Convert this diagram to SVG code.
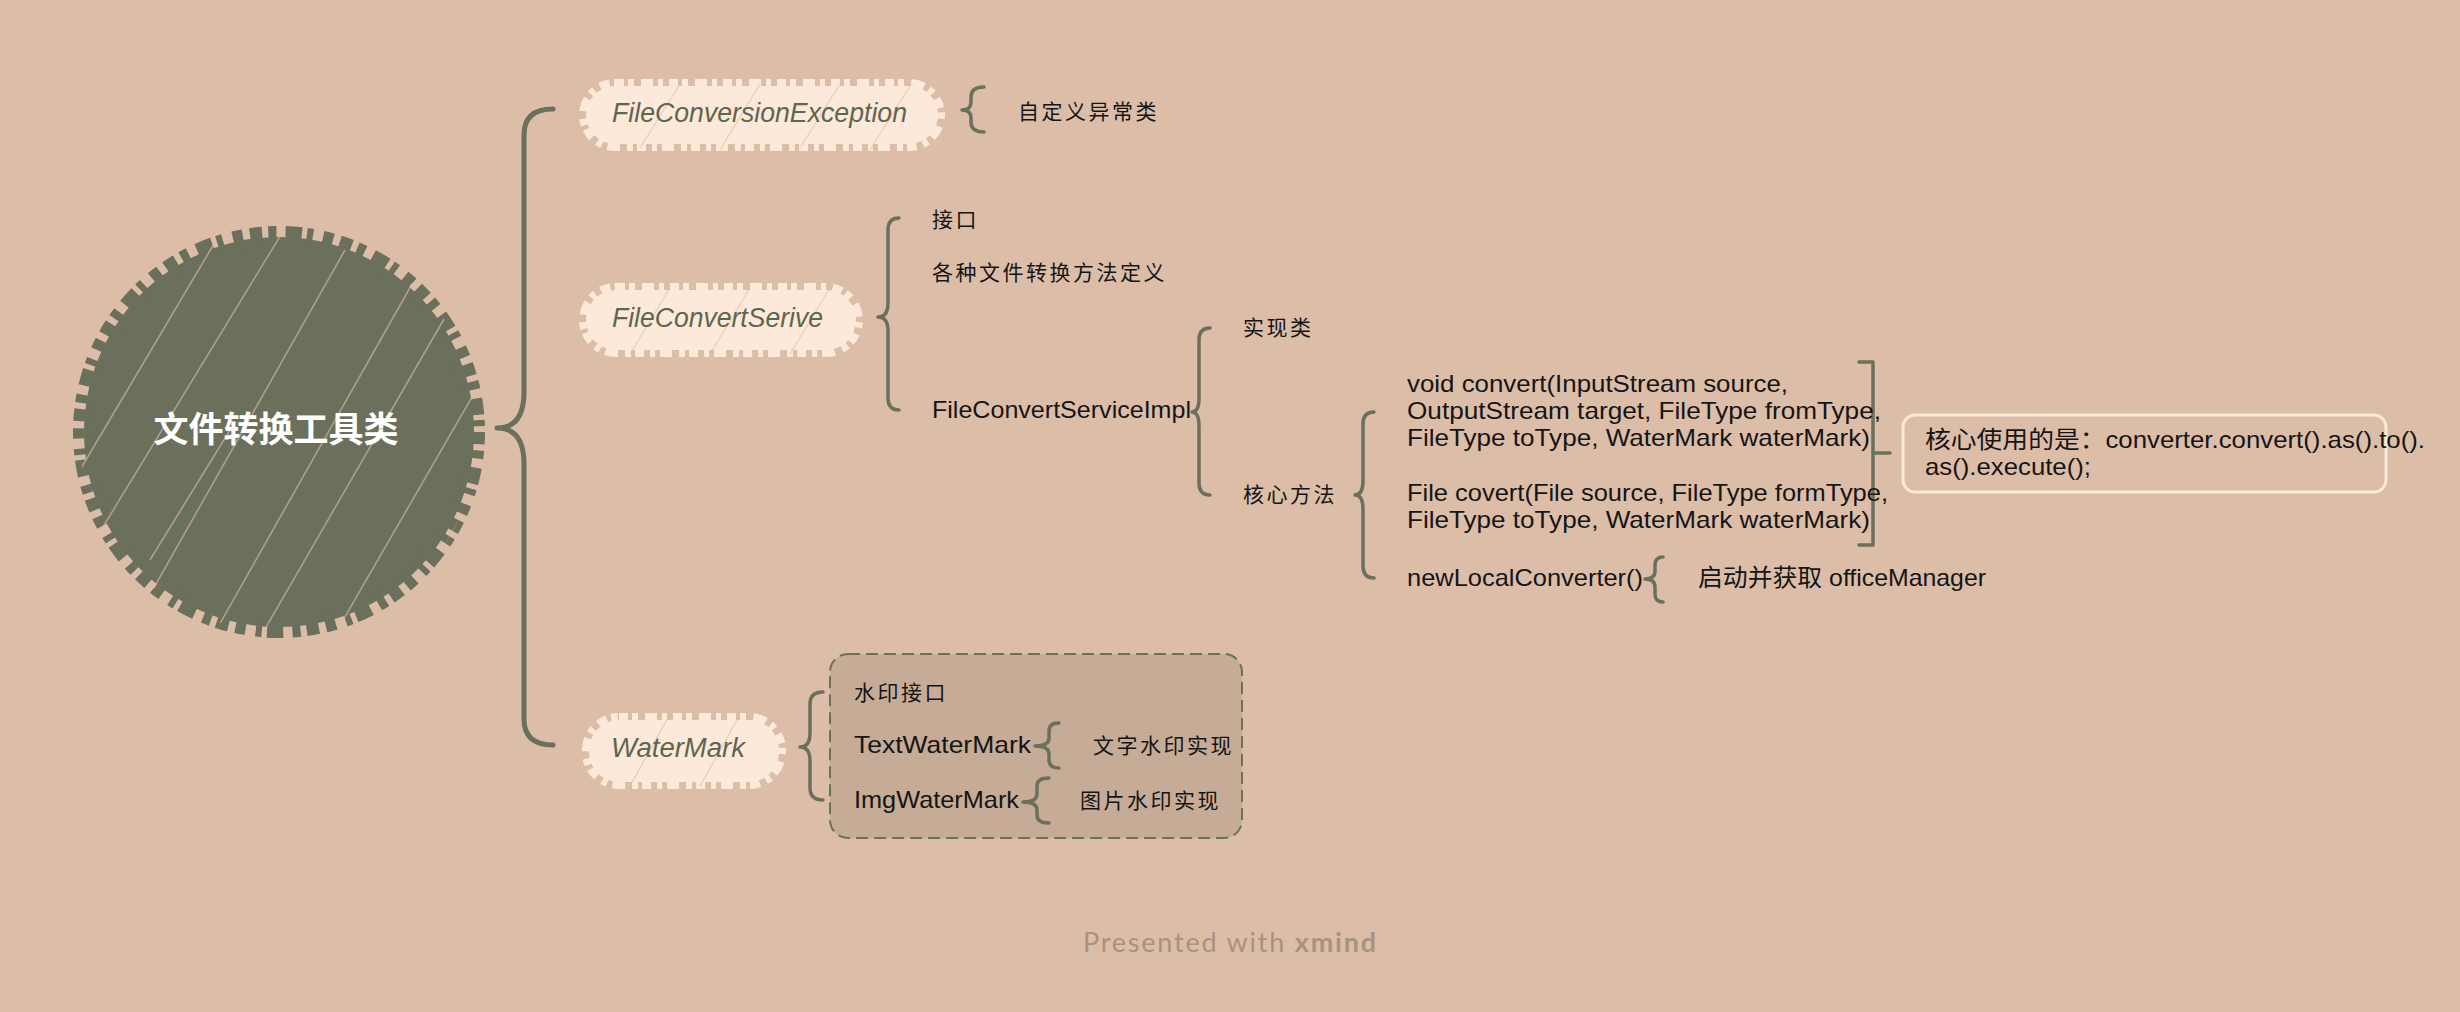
<svg xmlns="http://www.w3.org/2000/svg" width="2460" height="1012" viewBox="0 0 2460 1012">
<style>
.br{fill:none;stroke:#6b705c;stroke-width:3.5;stroke-linecap:round;stroke-linejoin:round}
.brm{stroke-width:5}
.t{font-family:"Liberation Sans","Noto Sans CJK SC",sans-serif;font-size:24px;fill:#151515}
.c{font-family:"Noto Sans CJK SC",sans-serif;font-size:21px;letter-spacing:2.5px;fill:#151515}
.nt{font-family:"Liberation Sans","Noto Sans",sans-serif;font-style:italic;font-size:27px;fill:#5f6650}
.scr{fill:#fde9d9;stroke:#fde9d9;stroke-width:14;stroke-dasharray:9 4 6 7 12 5 5 6}
.nh{stroke:#dcbda8;stroke-width:1.3;opacity:0.6}
.hatch{stroke:#dcbda8;stroke-width:1.6;opacity:0.6}
</style>
<defs>
<clipPath id="cc"><circle cx="279" cy="432" r="200"/></clipPath>
</defs>
<rect width="2460" height="1012" fill="#dcbda8"/>

<g id="boundary-watermark">
<rect x="830" y="654" width="412" height="184" rx="18" fill="#c6ab96" stroke="#6b705c" stroke-width="2" stroke-dasharray="12 6"/>
</g>

<g id="connectors">
<path class="br brm" d="M553,109 Q524,109 524,135 L524,392 Q524,428 497,428 Q524,428 524,464 L524,719 Q524,745 553,745"/>
<path class="br" d="M984,87 Q971,87 971,97 L971,102 Q971,110 962,110 Q971,110 971,118 L971,122 Q971,132 984,132"/>
<path class="br" d="M899,218 Q888,218 888,230 L888,303 Q888,317 878,317 Q888,317 888,331 L888,398 Q888,410 899,410"/>
<path class="br" d="M1210,328 Q1199,328 1199,340 L1199,398 Q1199,412 1192,412 Q1199,412 1199,426 L1199,483 Q1199,495 1210,495"/>
<path class="br" d="M1374,412 Q1363,412 1363,424 L1363,481 Q1363,495 1355,495 Q1363,495 1363,509 L1363,566 Q1363,578 1374,578"/>
<path class="br" d="M1663,557 Q1655,557 1655,565 L1655,571 Q1655,579 1645,579 Q1655,579 1655,587 L1655,594 Q1655,602 1663,602"/>
<path class="br" d="M823,692 Q810,692 810,704 L810,733 Q810,747 800,747 Q810,747 810,761 L810,788 Q810,800 823,800"/>
<path class="br" d="M1059,723 Q1049,723 1049,731 L1049,738 Q1049,746 1035,746 Q1049,746 1049,754 L1049,760 Q1049,768 1059,768"/>
<path class="br" d="M1049,778 Q1037,778 1037,786 L1037,794 Q1037,802 1023,802 Q1037,802 1037,810 L1037,815 Q1037,823 1049,823"/>
<path class="br" d="M1859,362 H1873 V545 H1859 M1873,453 H1890" stroke-linecap="butt"/>
</g>

<g id="root">
<circle cx="279" cy="432" r="195" fill="#6b705c" stroke="#6b705c" stroke-width="22" stroke-dasharray="12 6 8 9 16 5 6 10 10 7"/>
<g clip-path="url(#cc)" class="hatch">
<line x1="95" y1="540" x2="290" y2="220"/>
<line x1="130" y1="630" x2="345" y2="250"/>
<line x1="205" y1="650" x2="420" y2="270"/>
<line x1="250" y1="655" x2="455" y2="300"/>
<line x1="320" y1="660" x2="505" y2="340"/>
<line x1="80" y1="470" x2="240" y2="200"/>
<line x1="390" y1="640" x2="500" y2="450"/>
<line x1="150" y1="560" x2="230" y2="430"/>
</g>
<text x="276" y="442" text-anchor="middle" font-family="Noto Sans CJK SC, sans-serif" font-size="35" font-weight="bold" fill="#ffffff">文件转换工具类</text>
</g>

<g id="node-exception">
<rect class="scr" x="586" y="86" width="352" height="58" rx="29"/>
<g class="nh">
<line x1="640" y1="148" x2="680" y2="84"/><line x1="720" y1="150" x2="760" y2="84"/>
<line x1="800" y1="148" x2="840" y2="84"/><line x1="870" y1="150" x2="910" y2="86"/>
</g>
<text class="nt" x="612" y="122" textLength="295" lengthAdjust="spacingAndGlyphs">FileConversionException</text>
</g>
<g id="node-exception-desc">
<text class="c" x="1018" y="119">自定义异常类</text>
</g>

<g id="node-service">
<rect class="scr" x="586" y="290" width="270" height="60" rx="30"/>
<g class="nh">
<line x1="630" y1="354" x2="670" y2="288"/><line x1="710" y1="354" x2="750" y2="288"/>
<line x1="790" y1="354" x2="830" y2="288"/>
</g>
<text class="nt" x="612" y="327" textLength="211" lengthAdjust="spacingAndGlyphs">FileConvertSerive</text>
</g>
<g id="node-interface"><text class="c" x="932" y="227">接口</text></g>
<g id="node-methods-def"><text class="c" x="932" y="280">各种文件转换方法定义</text></g>
<g id="node-impl"><text class="t" x="932" y="418" textLength="259" lengthAdjust="spacingAndGlyphs">FileConvertServiceImpl</text></g>
<g id="node-impl-class"><text class="c" x="1243" y="335">实现类</text></g>
<g id="node-core"><text class="c" x="1243" y="502">核心方法</text></g>

<g id="node-convert1">
<text class="t" x="1407" y="392" textLength="381" lengthAdjust="spacingAndGlyphs">void convert(InputStream source,</text>
<text class="t" x="1407" y="419" textLength="474" lengthAdjust="spacingAndGlyphs">OutputStream target, FileType fromType,</text>
<text class="t" x="1407" y="446" textLength="463" lengthAdjust="spacingAndGlyphs">FileType toType, WaterMark waterMark)</text>
</g>
<g id="node-convert2">
<text class="t" x="1407" y="501" textLength="481" lengthAdjust="spacingAndGlyphs">File covert(File source, FileType formType,</text>
<text class="t" x="1407" y="528" textLength="463" lengthAdjust="spacingAndGlyphs">FileType toType, WaterMark waterMark)</text>
</g>
<g id="node-newlocal"><text class="t" x="1407" y="586" textLength="236" lengthAdjust="spacingAndGlyphs">newLocalConverter()</text></g>
<g id="node-newlocal-desc"><text class="t" x="1698" y="586" textLength="288" lengthAdjust="spacingAndGlyphs">启动并获取 officeManager</text></g>

<g id="node-summary">
<rect x="1903" y="415" width="483" height="77" rx="12" fill="none" stroke="#fbe9da" stroke-width="3"/>
<text class="t" x="1925" y="448" textLength="500" lengthAdjust="spacingAndGlyphs">核心使用的是：converter.convert().as().to().</text>
<text class="t" x="1925" y="475" textLength="166" lengthAdjust="spacingAndGlyphs">as().execute();</text>
</g>

<g id="node-watermark">
<rect class="scr" x="589" y="720" width="190" height="62" rx="30"/>
<g class="nh">
<line x1="630" y1="786" x2="668" y2="718"/><line x1="700" y1="786" x2="738" y2="718"/>
</g>
<text class="nt" x="611" y="757" textLength="134" lengthAdjust="spacingAndGlyphs">WaterMark</text>
</g>
<g id="node-wm-interface"><text class="c" x="854" y="700">水印接口</text></g>
<g id="node-textwm"><text class="t" x="854" y="753" textLength="177" lengthAdjust="spacingAndGlyphs">TextWaterMark</text></g>
<g id="node-textwm-desc"><text class="c" x="1093" y="753">文字水印实现</text></g>
<g id="node-imgwm"><text class="t" x="854" y="808" textLength="165" lengthAdjust="spacingAndGlyphs">ImgWaterMark</text></g>
<g id="node-imgwm-desc"><text class="c" x="1080" y="808">图片水印实现</text></g>

<text x="1083" y="952" font-family="Lato, sans-serif" font-size="27" fill="#a89282" textLength="293">Presented with <tspan font-weight="bold">xmind</tspan></text>
</svg>
